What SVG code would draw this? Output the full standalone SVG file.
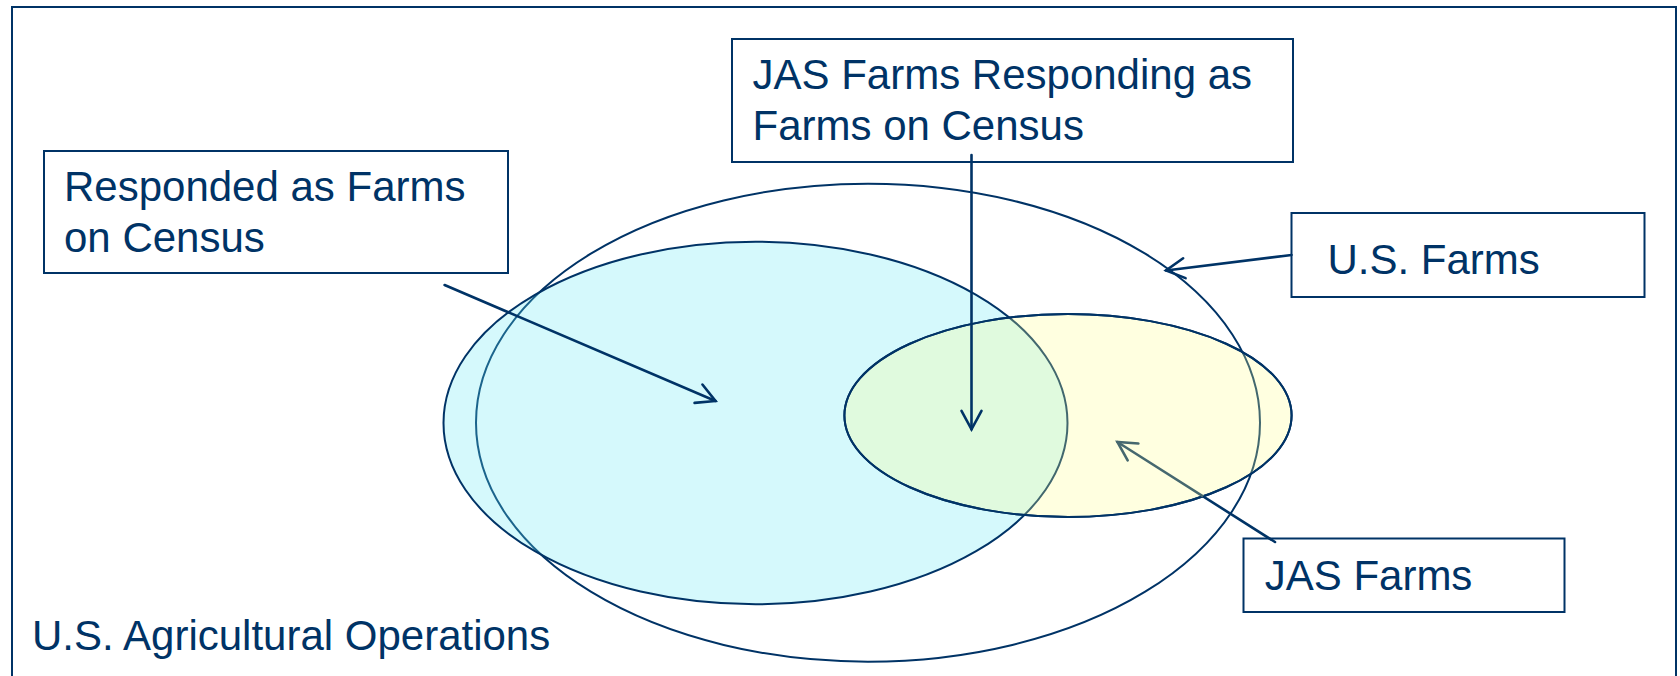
<svg xmlns="http://www.w3.org/2000/svg" width="1680" height="676" viewBox="0 0 1680 676">
<style>
.box{fill:#ffffff;stroke:#003366;stroke-width:2}
.lbl{font-family:"Liberation Sans",Arial,sans-serif;font-size:42px;fill:#003366}
.ell{stroke:#003366;stroke-width:2}
.arr{fill:none;stroke:#003366;stroke-width:2.6;stroke-linecap:round}
</style>
<defs>
<marker id="head" viewBox="-24 -14 28 28" refX="0" refY="0" markerWidth="28" markerHeight="28" markerUnits="userSpaceOnUse" orient="auto">
<path d="M -18.5 -10 L 0 0 L -18.5 10" fill="none" stroke="#003366" stroke-width="2.6" stroke-linecap="round" stroke-linejoin="miter"/>
</marker>
<marker id="headGray" viewBox="-24 -14 28 28" refX="0" refY="0" markerWidth="28" markerHeight="28" markerUnits="userSpaceOnUse" orient="auto">
<path d="M -18.5 -10 L 0 0 L -18.5 10" fill="none" stroke="#46686f" stroke-width="2.6" stroke-linecap="round"/>
</marker>
<linearGradient id="jasArrow" gradientUnits="userSpaceOnUse" x1="1275" y1="542" x2="1117.4" y2="442">
<stop offset="0" stop-color="#003366"/>
<stop offset="0.456" stop-color="#003366"/>
<stop offset="0.456" stop-color="#46686f"/>
<stop offset="1" stop-color="#46686f"/>
</linearGradient>
</defs>
<rect x="0" y="0" width="1680" height="676" fill="#ffffff"/>
<g id="frame">
<rect x="12" y="7" width="1664" height="690" fill="none" stroke="#003366" stroke-width="2"/>
<text class="lbl" x="32" y="650">U.S. Agricultural Operations</text>
</g>
<g id="us-farms-ellipse">
<ellipse class="ell" cx="868" cy="422.7" rx="392" ry="239" fill="none"/>
</g>
<g id="census-ellipse">
<ellipse class="ell" cx="755.5" cy="423" rx="312" ry="181.3" fill="rgb(100,232,245)" fill-opacity="0.27"/>
</g>
<g id="jas-ellipse">
<ellipse class="ell" cx="1068" cy="415.5" rx="223.6" ry="101.5" fill="rgb(255,255,136)" fill-opacity="0.26" stroke="none"/>
<ellipse cx="1068" cy="415.5" rx="223.6" ry="101.5" fill="none" stroke="#003366" stroke-width="2"/>
</g>
<g id="node-responded">
<rect class="box" x="44" y="151" width="464" height="122"/>
<text class="lbl" x="64" y="201">Responded as Farms</text>
<text class="lbl" x="64" y="251.7">on Census</text>
</g>
<g id="node-jas-responding">
<rect class="box" x="732" y="39" width="561" height="123"/>
<text class="lbl" x="752.5" y="89.3">JAS Farms Responding as</text>
<text class="lbl" x="752.5" y="140">Farms on Census</text>
</g>
<g id="node-us-farms">
<rect class="box" x="1291.5" y="213" width="353" height="84"/>
<text class="lbl" x="1327.4" y="274">U.S. Farms</text>
</g>
<g id="node-jas-farms">
<rect class="box" x="1243.5" y="538.5" width="321" height="73.5"/>
<text class="lbl" x="1264.7" y="590">JAS Farms</text>
</g>
<g id="connectors">
<line class="arr" x1="444.6" y1="285" x2="715.5" y2="401" marker-end="url(#head)"/>
<line class="arr" x1="971.5" y1="155" x2="971.5" y2="429.3" marker-end="url(#head)"/>
<line class="arr" x1="1291.5" y1="255" x2="1166" y2="270.5" marker-end="url(#head)"/>
<line x1="1275" y1="542" x2="1117.4" y2="442" fill="none" stroke="url(#jasArrow)" stroke-width="2.6" stroke-linecap="round" marker-end="url(#headGray)"/>
</g>
</svg>
